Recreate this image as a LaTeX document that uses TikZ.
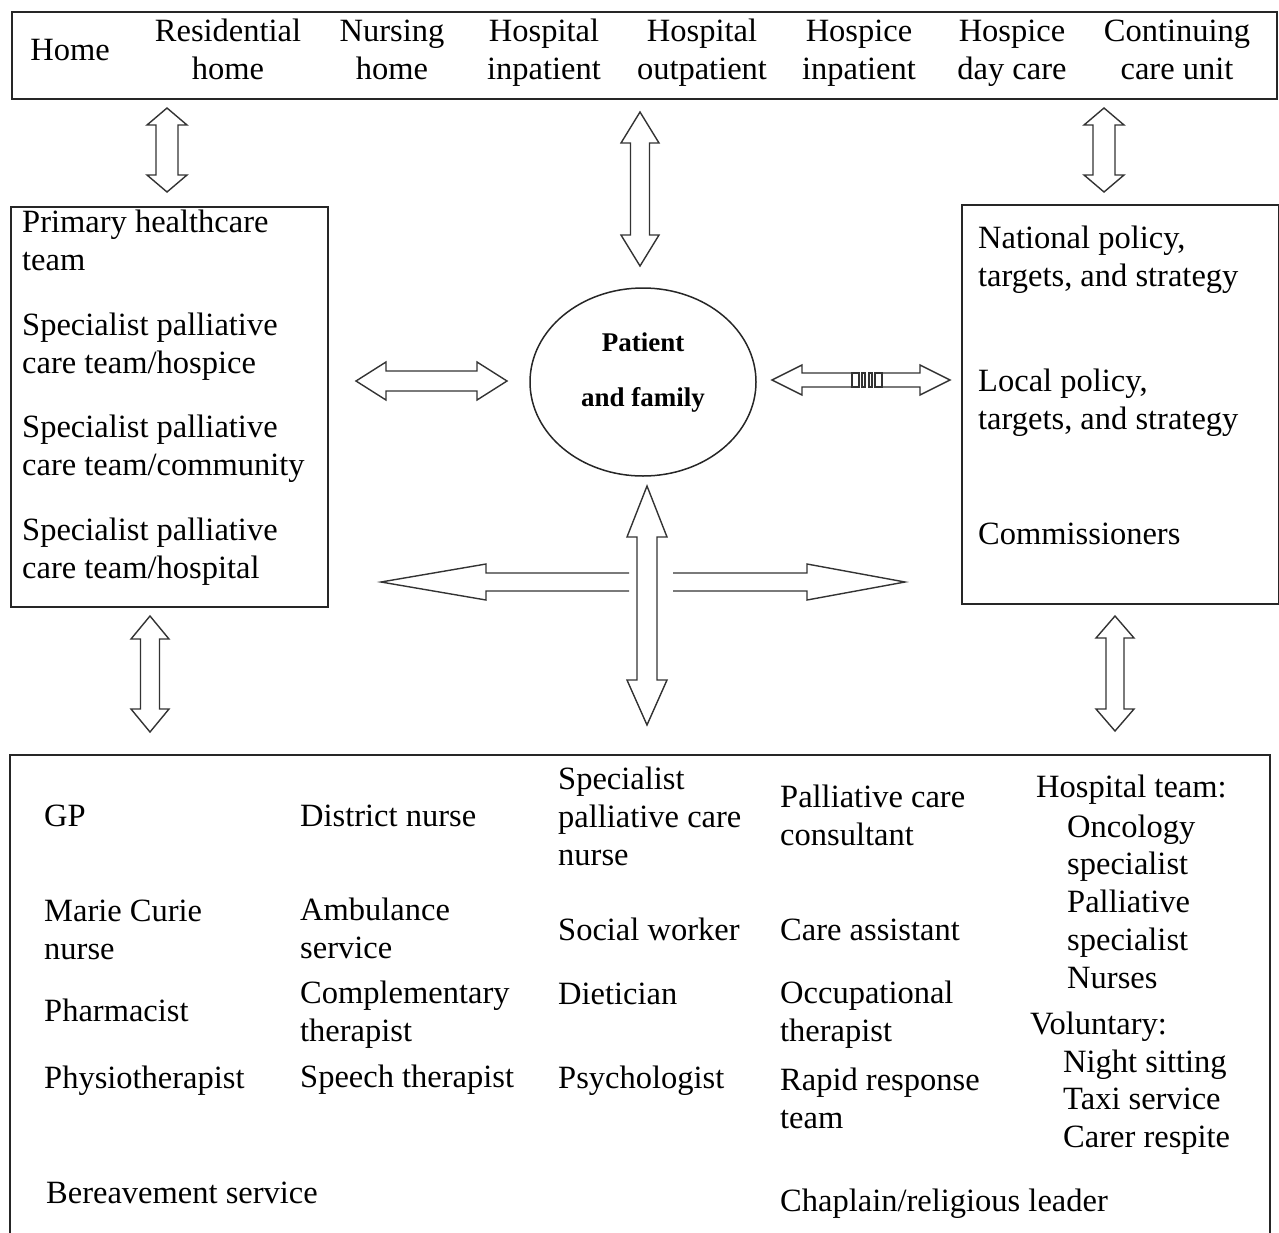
\documentclass[tikz,border=0pt]{standalone}
\usepackage{fontspec}
\setmainfont{Liberation Serif}
\usetikzlibrary{shapes.geometric}
% vertical double block arrow: x, ytop, ybottom, shaft half, head half, head length
\newcommand{\VDA}[6]{%
\draw[blk] (#1,#2) -- (#1+#5,#2+#6) -- (#1+#4,#2+#6) -- (#1+#4,#3-#6) -- (#1+#5,#3-#6) -- (#1,#3)
 -- (#1-#5,#3-#6) -- (#1-#4,#3-#6) -- (#1-#4,#2+#6) -- (#1-#5,#2+#6) -- cycle;}
% horizontal double block arrow: xleft, xright, y, shaft half, head half, head length
\newcommand{\HDA}[6]{%
\draw[blk] (#1,#3) -- (#1+#6,#3-#5) -- (#1+#6,#3-#4) -- (#2-#6,#3-#4) -- (#2-#6,#3-#5) -- (#2,#3)
 -- (#2-#6,#3+#5) -- (#2-#6,#3+#4) -- (#1+#6,#3+#4) -- (#1+#6,#3+#5) -- cycle;}
\begin{document}
\begin{tikzpicture}[x=1pt,y=-1pt,
  box/.style={draw=black!85, line width=1.5pt, inner sep=0pt, anchor=north west},
  blk/.style={draw=black!80, line width=1.4pt, line join=miter},
  txt/.style={inner sep=0pt, anchor=base west, align=left, font=\fontsize{32.5}{38}\selectfont},
  ctxt/.style={txt, anchor=base, align=center},
]
\useasboundingbox (0,0) rectangle (1279,1232);
% (multi-line texts are placed by the baseline of their last line)

% ---------- top box ----------
\node[box, minimum width=1265pt, minimum height=87pt] (top) at (11,11) {};
\node[txt, anchor=base] (home) at (70,60) {Home};
\node[ctxt] (resh) at (228,79) {Residential\\home};
\node[ctxt] (nurh) at (392,79) {Nursing\\home};
\node[ctxt] (hin) at (544,79) {Hospital\\inpatient};
\node[ctxt] (hout) at (702,79) {Hospital\\outpatient};
\node[ctxt] (hspin) at (859,79) {Hospice\\inpatient};
\node[ctxt] (hspday) at (1012,79) {Hospice\\day care};
\node[ctxt] (cont) at (1177,79) {Continuing\\care unit};

% ---------- left box ----------
\node[box, minimum width=317pt, minimum height=400pt] (left) at (10,206) {};
\node[txt] (phc) at (22,270) {Primary healthcare\\team};
\node[txt] (spch) at (22,373) {Specialist palliative\\care team/hospice};
\node[txt] (spcc) at (22,475) {Specialist palliative\\care team/community};
\node[txt] (spchl) at (22,578) {Specialist palliative\\care team/hospital};

% ---------- right box ----------
\node[box, minimum width=317pt, minimum height=399pt] (right) at (961,204) {};
\node[txt] (nat) at (978,286) {National policy,\\targets, and strategy};
\node[txt] (loc) at (978,429) {Local policy,\\targets, and strategy};
\node[txt] (com) at (978,544) {Commissioners};

% ---------- centre ----------
\node[draw=black!85, line width=1.5pt, ellipse, minimum width=226pt, minimum height=188pt, inner sep=0pt] (pf) at (643,382) {};
\node[inner sep=0pt, anchor=base, align=center, font=\fontsize{27}{55}\selectfont\bfseries] (pftext) at (643,406) {Patient\\and family};

% ---------- bottom box (open at the bottom) ----------
\coordinate (bl) at (10,1240);
\coordinate (br) at (1270,1240);
\draw[draw=black!85, line width=1.5pt] (bl) -- (10,755) -- (1270,755) -- (br);

\node[txt] (gp) at (44,826) {GP};
\node[txt] (mc) at (44,959) {Marie Curie\\nurse};
\node[txt] (ph) at (44,1021) {Pharmacist};
\node[txt] (phy) at (44,1088) {Physiotherapist};
\node[txt] (ber) at (46,1203) {Bereavement service};

\node[txt] (dn) at (300,826) {District nurse};
\node[txt] (amb) at (300,958) {Ambulance\\service};
\node[txt] (compl) at (300,1041) {Complementary\\therapist};
\node[txt] (sp) at (300,1087) {Speech therapist};

\node[txt] (spn) at (558,865) {Specialist\\palliative care\\nurse};
\node[txt] (sw) at (558,940) {Social worker};
\node[txt] (di) at (558,1004) {Dietician};
\node[txt] (psy) at (558,1088) {Psychologist};

\node[txt] (pcc) at (780,845) {Palliative care\\consultant};
\node[txt] (ca) at (780,940) {Care assistant};
\node[txt] (ot) at (780,1041) {Occupational\\therapist};
\node[txt] (rr) at (780,1128) {Rapid response\\team};
\node[txt] (chap) at (780,1211) {Chaplain/religious leader};

\node[txt] (ht) at (1036,797) {Hospital team:};
\node[txt, font=\fontsize{32.5}{37.75}\selectfont] (htl) at (1067,988) {Oncology\\specialist\\Palliative\\specialist\\Nurses};
\node[txt] (vol) at (1030,1034) {Voluntary:};
\node[txt, font=\fontsize{32.5}{37.5}\selectfont] (voll) at (1063,1147) {Night sitting\\Taxi service\\Carer respite};

% ---------- block arrows ----------
\VDA{167}{108}{192}{11}{20}{17}
\VDA{640}{112}{266}{9.5}{19}{31}
\VDA{1104}{108}{192}{11}{20}{17}
\HDA{356}{507}{381}{10}{19}{30}
\VDA{150}{616}{732}{9.5}{19}{23}
\VDA{1115}{616}{731}{9}{19}{22}

% right arrow with the small bars in its shaft
\draw[blk] (852,373) -- (802,373) -- (802,365) -- (772,380) -- (802,395) -- (802,387) -- (852,387);
\draw[blk] (882,373) -- (920,373) -- (920,365) -- (950,380) -- (920,395) -- (920,387) -- (882,387);
\draw[blk, line width=1.2pt] (852,373) rectangle (859,387) (862,373) rectangle (865,387)
  (869,373) rectangle (872,387) (875,373) rectangle (882,387);

% bottom centre cross of arrows
\draw[blk] (647,486) -- (667,537) -- (657,537) -- (657,680) -- (667,680) -- (647,725)
  -- (627,680) -- (637,680) -- (637,537) -- (627,537) -- cycle;
\draw[blk] (629,573) -- (486,573) -- (486,564) -- (381,582) -- (486,600) -- (486,591) -- (629,591);
\draw[blk] (673,573) -- (807,573) -- (807,564) -- (905,582) -- (807,600) -- (807,591) -- (673,591);
\end{tikzpicture}
\end{document}
